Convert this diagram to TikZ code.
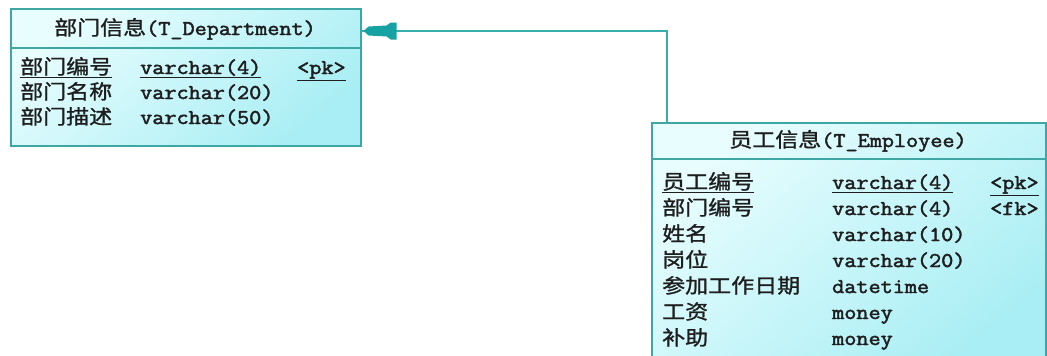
\documentclass[tikz,border=0pt]{standalone}
\usepackage{fontspec}
\newfontfamily\cjk[FakeStretch=1.15,FakeBold=1.2]{Noto Sans CJK SC}
\newfontfamily\mono[FakeStretch=1.12,FakeBold=2.2]{Latin Modern Mono}
\definecolor{bordc}{HTML}{3FA6A6}
\definecolor{connc}{HTML}{3AAEAE}
\definecolor{arrc}{HTML}{16A2A2}
\definecolor{fillA}{HTML}{E8FDFE}
\definecolor{fillB}{HTML}{A8EEF4}
\definecolor{txt}{HTML}{1E1E1E}
\tikzset{
  tablebox/.style={draw=bordc, line width=1.6pt, top color=fillA, bottom color=fillB, shading angle=40, inner sep=0pt, anchor=north west},
  divline/.style={draw=bordc, line width=1.6pt},
  cell/.style={anchor=base west, inner sep=0pt, text=txt},
  title/.style={anchor=base, inner sep=0pt, text=txt},
  conn/.style={draw=connc, line width=1.6pt},
}
\newcommand{\cn}[1]{{\cjk\fontsize{20}{22}\selectfont #1}}
\newcommand{\mn}[1]{{\mono\fontsize{21}{22}\selectfont #1}}
\begin{document}
\begin{tikzpicture}[x=1pt,y=-1pt]
\useasboundingbox (0,0) rectangle (1047,356);
\begin{scope}
\clip (0,0) rectangle (1047,356);
% Department table
\node[tablebox, minimum width=350pt, minimum height=137pt] (dep) at (10,8) {};
\draw[divline] (10,48) -- (360,48);
\node[title] (dept) at (185,35) {\cn{部门信息}\mn{(T\_Department)}};
\node[cell] (d1a) at (20,74) {\underline{\cn{部门编号}}};
\node[cell] (d1b) at (140,74) {\underline{\mn{varchar(4)}}};
\node[cell] (d1c) at (297,74) {\underline{\mn{<pk>}}};
\node[cell] (d2a) at (20,99) {\cn{部门名称}};
\node[cell] (d2b) at (140,99) {\mn{varchar(20)}};
\node[cell] (d3a) at (20,124) {\cn{部门描述}};
\node[cell] (d3b) at (140,124) {\mn{varchar(50)}};
% Employee table
\node[tablebox, minimum width=394pt, minimum height=250pt] (emp) at (651,122) {};
\draw[divline] (651,159) -- (1045,159);
\node[title] (empt) at (848,147) {\cn{员工信息}\mn{(T\_Employee)}};
\node[cell] (e1a) at (662,189) {\underline{\cn{员工编号}}};
\node[cell] (e1b) at (832,189) {\underline{\mn{varchar(4)}}};
\node[cell] (e1c) at (990,189) {\underline{\mn{<pk>}}};
\node[cell] (e2a) at (662,215) {\cn{部门编号}};
\node[cell] (e2b) at (832,215) {\mn{varchar(4)}};
\node[cell] (e2c) at (990,215) {\mn{<fk>}};
\node[cell] (e3a) at (662,241) {\cn{姓名}};
\node[cell] (e3b) at (832,241) {\mn{varchar(10)}};
\node[cell] (e4a) at (662,267) {\cn{岗位}};
\node[cell] (e4b) at (832,267) {\mn{varchar(20)}};
\node[cell] (e5a) at (662,293) {\cn{参加工作日期}};
\node[cell] (e5b) at (832,293) {\mn{datetime}};
\node[cell] (e6a) at (662,319) {\cn{工资}};
\node[cell] (e6b) at (832,319) {\mn{money}};
\node[cell] (e7a) at (662,345) {\cn{补助}};
\node[cell] (e7b) at (832,345) {\mn{money}};
\end{scope}
% Reference connector
\draw[conn] ([xshift=16pt]emp.north west) |- ([yshift=-23pt]dep.north east);
\begin{scope}[shift={([yshift=-23pt]dep.north east)}]
\fill[arrc] (2,0) -- (7,-4.5) -- (25,-5.5) -- (29,-8.5) -- (35,-8.5) -- (35,8.5) -- (29,8.5) -- (25,5.5) -- (7,4.5) -- cycle;
\end{scope}
\end{tikzpicture}
\end{document}
